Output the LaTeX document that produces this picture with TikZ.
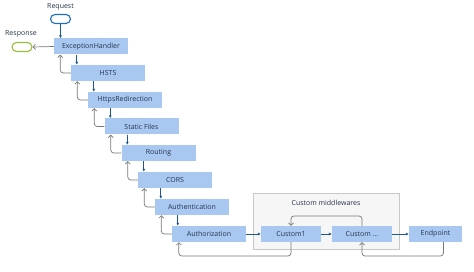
\documentclass[tikz,border=0pt]{standalone}
\usepackage{fontspec}
\setmainfont{Open Sans}
\usetikzlibrary{arrows.meta,calc}
\definecolor{boxblue}{RGB}{168,200,242}
\definecolor{txt}{RGB}{38,52,75}
\definecolor{dblue}{RGB}{30,88,140}
\definecolor{lgray}{RGB}{120,120,120}
\definecolor{grpfill}{RGB}{246,246,246}
\definecolor{grpline}{RGB}{200,200,200}
\definecolor{reqblue}{RGB}{30,110,185}
\definecolor{respgreen}{RGB}{150,190,60}
\tikzset{
  mw/.style={fill=boxblue, minimum width=74pt, minimum height=16pt, inner sep=0pt, text=txt, font=\fontsize{7}{8}\selectfont},
  pill/.style={draw, fill=white, rounded corners=4.5pt, minimum width=20pt, minimum height=9pt, inner sep=0pt, line width=1.1pt},
  lbl/.style={text=txt, font=\fontsize{7}{8}\selectfont, inner sep=0pt},
  down/.style={draw=dblue, line width=0.8pt, -{Latex[length=3pt,width=3pt]}},
  up/.style={draw=lgray, line width=0.7pt, rounded corners=3pt, -{Straight Barb[length=2.5pt,width=5pt]}}
}
\begin{document}
\begin{tikzpicture}[x=1pt,y=-1pt]
\useasboundingbox (0,0) rectangle (474,272);
% group
\node[draw=grpline, fill=grpfill, line width=0.6pt, minimum width=146pt, minimum height=56pt, inner sep=0pt] (grp) at (326,221) {};
\node[lbl] (grplbl) at (326,203) {Custom middlewares};
% pills
\node[lbl] (reqlbl) at (60.5,7) {Request};
\node[pill, draw=reqblue] (req) at (60.5,19) {};
\node[lbl] (resplbl) at (21,34) {Response};
\node[pill, draw=respgreen] (resp) at (22,47) {};
% chain
\node[mw] (b0) at (91,46.5) {ExceptionHandler};
\node[mw] (b1) at (108,73) {HSTS};
\node[mw] (b2) at (125,100) {HttpsRedirection};
\node[mw] (b3) at (141.5,126.5) {Static Files};
\node[mw] (b4) at (158.5,153) {Routing};
\node[mw] (b5) at (175,180) {CORS};
\node[mw] (b6) at (192,207) {Authentication};
\node[mw] (b7) at (209,234) {Authorization};
\node[mw, minimum width=60pt] (c1) at (291,234) {Custom1};
\node[mw, minimum width=60pt] (c2) at (362,234) {Custom ...};
\node[mw, minimum width=53pt] (ep) at (435.5,234) {Endpoint};
% request / response
\draw[down] (req.south) -- (req.south |- b0.north);
\draw[up] (b0.west) -- (resp.east);
% chain arrows
\foreach \a/\b in {b0/b1,b1/b2,b2/b3,b3/b4,b4/b5,b5/b6,b6/b7} {
  \coordinate (d\b) at ([xshift=6pt]\b.north west);
  \draw[down] (d\b |- \a.south) -- (d\b);
  \coordinate (u\a) at ([xshift=6.5pt]\a.south west);
  \draw[up] (\b.west) -| (u\a);
}
\draw[down] (b7.east) -- (c1.west);
\draw[down] (c1.east) -- (c2.west);
\draw[down] (c2.east) -- (ep.west);
% loops
\coordinate (loopy) at (0,216);
\coordinate (bot) at (0,256);
\coordinate (ub7) at ([xshift=7pt]b7.south west);
\coordinate (epd) at ([xshift=8pt]ep.south);
\draw[up] (c2.north) -- (c2.north |- loopy) -- (c1.north |- loopy) -- (c1.north);
\draw[up] (c1.south) -- (c1.south |- bot) -- (ub7 |- bot) -- (ub7);
\draw[up] (epd) -- (epd |- bot) -- (c2.south |- bot) -- (c2.south);
\end{tikzpicture}
\end{document}
